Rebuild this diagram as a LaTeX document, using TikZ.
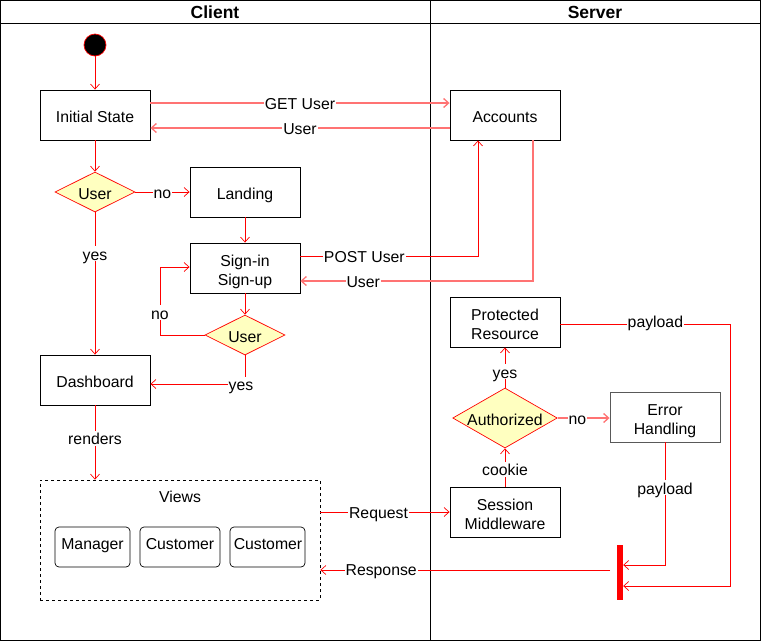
\documentclass[tikz,border=0pt]{standalone}
\usepackage{fontspec}
\setmainfont{Liberation Sans}
\usetikzlibrary{arrows.meta,shapes.geometric,positioning}
\definecolor{dred}{HTML}{FF0000}
\definecolor{lred}{HTML}{FF7373}
\definecolor{dyel}{HTML}{FFFFC0}
\newcommand{\fs}{\fontsize{15.8}{19}\selectfont}
\tikzset{
  tb/.style={text height=14.5pt,text depth=0pt},
  box/.style={draw=black,line width=0.9pt,minimum width=110pt,minimum height=50pt,align=center,inner sep=0pt,font=\fs},
  box2/.style={box,text height=34pt,text depth=0pt},
  box1/.style={box,tb},
  dec/.style={diamond,aspect=2,draw=dred,fill=dyel,line width=0.7pt,inner sep=0pt,font=\fs,tb},
  view/.style={draw=black,rounded corners=4pt,line width=0.7pt,minimum width=75pt,minimum height=40pt,inner sep=0pt},
  flow/.style={draw=dred,line width=0.7pt,-{Straight Barb[length=5pt,width=9pt]}},
  lflow/.style={draw=lred,line width=1.3pt,-{Straight Barb[length=5pt,width=9pt]}},
  lab/.style={fill=white,inner sep=1pt,font=\fs,text height=13pt,text depth=0pt},
  txt/.style={font=\fs,inner sep=0pt,tb},
  hdr/.style={font=\bfseries\fontsize{17.5}{20}\selectfont}
}
\begin{document}
\begin{tikzpicture}[x=1pt,y=-1pt]
\useasboundingbox (0,0) rectangle (761,641);
% swimlanes
\draw[line width=0.9pt] (0.5,0.5) rectangle (760.5,640.5);
\draw[line width=0.9pt] (0.5,23) -- (760.5,23);
\draw[line width=0.9pt] (430,0.5) -- (430,640.5);
\node[hdr] (hc) at (215,12) {Client};
\node[hdr] (hs) at (595,12) {Server};
% client nodes
\node[circle,draw=dred,fill=black,minimum size=22pt,inner sep=0pt,line width=0.7pt] (start) at (95,45) {};
\node[box1] (init) at (95,115) {Initial State};
\node[dec,minimum width=80pt,minimum height=40pt] (u1) at (95,192) {User};
\node[box1] (land) at (245,192) {Landing};
\node[box2] (sign) at (245,268) {Sign-in\\Sign-up};
\node[dec,minimum width=80pt,minimum height=40pt] (u2) at (245,335) {User};
\node[box1] (dash) at (95,380) {Dashboard};
\node[draw=black,dashed,line width=0.7pt,minimum width=280pt,minimum height=120pt,inner sep=0pt] (views) at (180,540) {};
\node[txt] (vlab) at (180,495) {Views};
\node[view] (man) at (92.5,547) {};
\node[txt] (manl) at (92.5,542) {Manager};
\node[view,minimum width=80pt] (cu1) at (180,547) {};
\node[txt] (cu1l) at (180,542) {Customer};
\node[view] (cu2) at (267.5,547) {};
\node[txt] (cu2l) at (268,542) {Customer};
% server nodes
\node[box1] (acc) at (505,115) {Accounts};
\node[box2] (prot) at (505,322) {Protected\\Resource};
\node[dec,minimum width=100pt,minimum height=60pt] (auth) at (505,418) {Authorized};
\node[box2,draw=black!65] (err) at (665,417) {Error\\Handling};
\node[box2] (sess) at (505,512) {Session\\Middleware};
\node[fill=dred,minimum width=6pt,minimum height=55pt,inner sep=0pt] (bar) at (620,572.5) {};
% coordinates
\coordinate (n2a) at (160,335);
\coordinate (n2b) at (160,267);
\coordinate (y2a) at (245,384);
\coordinate (pa) at (478,256);
\coordinate (ua) at (533,281);
\coordinate (ea) at (665,565);
\coordinate (pr) at (730,324);
\coordinate (prb) at (730,586);
\coordinate (resp) at (610,570);
% client edges
\draw[flow] (start) -- (init);
\draw[flow] (init) -- (u1);
\draw[flow] (u1) -- node[lab]{no} (land);
\draw[flow] (u1) -- node[lab,pos=0.29]{yes} (dash);
\draw[flow] (land) -- (sign);
\draw[flow] (sign) -- (u2);
\draw[flow] (u2.west) -- (n2a) -- node[lab,pos=0.33]{no} (n2b) -- (n2b -| sign.west);
\draw[flow] (u2.south) -- (y2a) node[lab,pos=1,xshift=-4pt]{yes} -- (y2a -| dash.east);
\draw[flow] (dash) -- node[lab,pos=0.44]{renders} (views.north -| dash);
% cross-lane edges
\draw[lflow] ([yshift=12pt]init.east) -- node[lab]{GET User} ([yshift=12pt]acc.west);
\draw[lflow] ([yshift=-13pt]acc.west) -- node[lab]{User} ([yshift=-13pt]init.east);
\draw[flow] (pa -| sign.east) -- node[lab,pos=0.36]{POST User} (pa) -- (pa |- acc.south);
\draw[lflow] (ua |- acc.south) -- (ua) -- node[lab,pos=0.73]{User} (ua -| sign.east);
\draw[flow] ([yshift=28pt]views.east) -- node[lab,pos=0.45]{Request} (sess.west);
\draw[flow] (resp) -- node[lab,pos=0.79,yshift=1pt]{Response} (resp -| views.east);
% server edges
\draw[flow] (sess) -- node[lab,pos=0.45]{cookie} (auth);
\draw[flow] (auth) -- node[lab,pos=0.4]{yes} (prot);
\draw[lflow] (auth.east) -- node[lab,pos=0.38]{no} (err.west |- auth.east);
\draw[flow] (err) -- node[lab,pos=0.37]{payload} (ea) -- (ea -| bar.east);
\draw[flow] (prot.east |- pr) -- node[lab,pos=0.56,yshift=3pt]{payload} (pr) -- (prb) -- (prb -| bar.east);
\end{tikzpicture}
\end{document}
